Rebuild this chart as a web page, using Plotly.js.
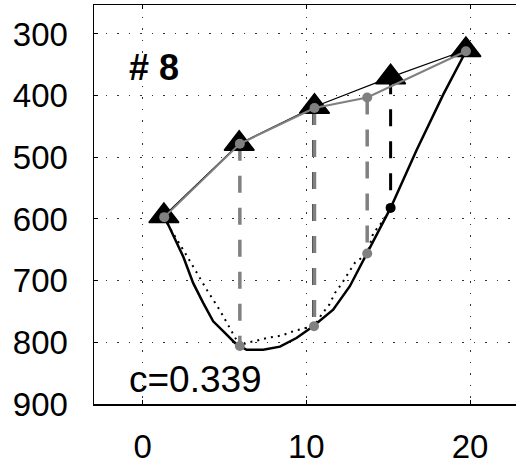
<!DOCTYPE html>
<html>
<head>
<meta charset="utf-8">
<script src="https://cdn.plot.ly/plotly-3.0.1.min.js"></script>
<style>
html,body{margin:0;padding:0;background:#fff;}
#chart{width:516px;height:465px;}
</style>
</head>
<body>
<div id="chart"></div>
<script>
// Triangles (black) and connecting line
const triX = [1.3, 5.9, 10.5, 15.15, 19.75];
const triY = [595, 478, 418, 370, 326];

// Gray circles on the upper line
const grayTopX = [1.32, 5.94, 10.5, 13.72, 19.75];
const grayTopY = [597, 478, 420, 403, 328];

// Gray circles on the lower curve
const grayLowX = [5.94, 10.47, 13.72];
const grayLowY = [806, 774, 656];

// Black dot on the lower curve
const blackDotX = [15.15];
const blackDotY = [582];

// Solid black curve
const solidX = [1.3, 1.56, 2.48, 3.09, 3.70, 4.31, 4.92, 5.64, 6.35, 7.37, 8.39, 9.4, 10.42, 11.64, 12.66, 13.72, 14.8, 15.15, 16.74, 18.37, 19.75];
const solidY = [597, 609, 661, 704, 736, 766, 782, 801, 812, 812, 807, 793, 774, 747, 709, 655, 601, 582, 488, 398, 328];

// Dotted black curve
const dotX = [1.3, 1.67, 2.48, 3.19, 3.95, 4.72, 5.44, 5.94, 6.35, 7.06, 7.78, 8.49, 9.2, 9.9, 10.47, 10.93, 11.4, 11.75, 12.16, 12.56, 12.97, 13.72, 14.09, 14.6, 15.15];
const dotY = [597, 615, 650, 682, 716, 748, 782, 806, 801, 796, 792, 789, 782, 777, 774, 755, 739, 720, 705, 688, 671, 656, 623, 606, 582];

// Vertical dashed drops: [x, top, bottom]
const dropGrayX = [5.94, 10.5, 13.72];
const dropGrayTop = [478, 420, 403];
const dropGrayBottom = [806, 774, 656];
const dropDarkX = [10.42];
const dropDarkTop = [420];
const dropDarkBottom = [774];
const dropBlackX = [15.15];
const dropBlackTop = [370];
const dropBlackBottom = [582];

const xTicks = [0, 10, 20];
const yTicks = [300, 400, 500, 600, 700, 800, 900];

const labelTop = "# 8";
const labelBottom = "c=0.339";

const FONT = "Liberation Sans, Arial, Helvetica, sans-serif";
const DASH = "17px,15px";

function dropTraces(xs, tops, bottoms, color, width) {
  return xs.map((x, i) => ({
    x: [x, x], y: [tops[i], bottoms[i]], mode: 'lines',
    line: {color: color, width: width, dash: DASH},
    hoverinfo: 'skip', showlegend: false
  }));
}

const traces = [
  {x: dotX, y: dotY, mode: 'lines', line: {color: '#000', width: 2, dash: '2px,5px'}, showlegend: false},
  {x: solidX, y: solidY, mode: 'lines', line: {color: '#000', width: 2.5}, showlegend: false},
  ...dropTraces(dropDarkX, dropDarkTop, dropDarkBottom, '#222', 2),
  ...dropTraces(dropGrayX, dropGrayTop, dropGrayBottom, '#808080', 3.5),
  ...dropTraces(dropBlackX, dropBlackTop, dropBlackBottom, '#000', 3),
  {x: triX, y: triY, mode: 'lines+markers', line: {color: '#000', width: 1.2},
   marker: {symbol: 'triangle-up', size: 26, color: '#000', line: {color: '#000', width: 1.5}}, showlegend: false},
  {x: grayTopX, y: grayTopY, mode: 'lines+markers', line: {color: '#808080', width: 2},
   marker: {symbol: 'circle', size: 10, color: '#808080'}, showlegend: false},
  {x: grayLowX, y: grayLowY, mode: 'markers', marker: {symbol: 'circle', size: 10, color: '#808080'}, showlegend: false},
  {x: blackDotX, y: blackDotY, mode: 'markers', marker: {symbol: 'circle', size: 10, color: '#000'}, showlegend: false}
];

const layout = {
  width: 516, height: 465,
  margin: {l: 94, r: 0, t: 5, b: 61, pad: 0},
  paper_bgcolor: '#fff', plot_bgcolor: '#fff',
  font: {family: FONT, color: '#000'},
  showlegend: false,
  xaxis: {
    range: [-2.97, 22.81], tickvals: xTicks, ticktext: xTicks.map(String),
    showgrid: true, gridcolor: '#333', gridwidth: 1, griddash: '1.5px,10px',
    zeroline: false, showline: true, linecolor: '#000', linewidth: 1.5, mirror: 'ticks',
    ticks: 'inside', ticklen: 4, tickcolor: '#000', tickwidth: 1,
    tickfont: {family: FONT, size: 33, color: '#000'}, ticklabelstandoff: 13
  },
  yaxis: {
    range: [900, 253], tickvals: yTicks, ticktext: yTicks.map(String),
    showgrid: true, gridcolor: '#333', gridwidth: 1, griddash: '1.5px,10px',
    zeroline: false, showline: true, linecolor: '#000', linewidth: 1.5, mirror: false,
    ticks: 'inside', ticklen: 4, tickcolor: '#000', tickwidth: 1,
    tickfont: {family: FONT, size: 33, color: '#000'}, ticklabelstandoff: 18
  },
  annotations: [
    {x: -0.96, y: 355, xref: 'x', yref: 'y', text: '<b>' + labelTop + '</b>', showarrow: false,
     xanchor: 'left', yanchor: 'middle', font: {family: FONT, size: 36, color: '#000'}},
    {x: -0.96, y: 860, xref: 'x', yref: 'y', text: labelBottom, showarrow: false,
     xanchor: 'left', yanchor: 'middle', font: {family: FONT, size: 37, color: '#000'}}
  ]
};

Plotly.newPlot('chart', traces, layout, {displayModeBar: false, staticPlot: true});
</script>
</body>
</html>
